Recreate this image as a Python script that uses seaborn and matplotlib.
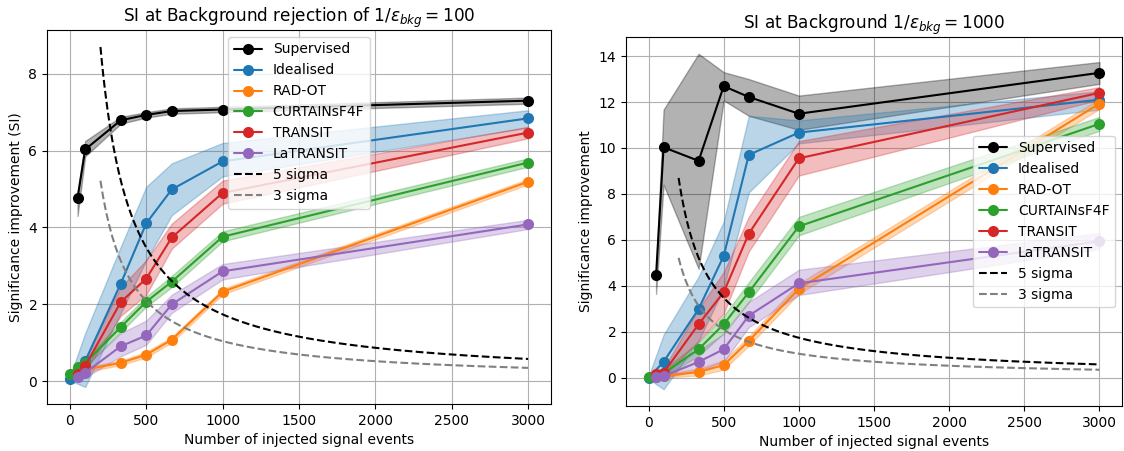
import numpy as np
import matplotlib
matplotlib.use("Agg")
import matplotlib.pyplot as plt
import seaborn as sns

sns.set_style("ticks", {
    "axes.edgecolor": "black",
    "axes.labelcolor": "black",
    "text.color": "black",
    "xtick.color": "black",
    "ytick.color": "black",
})
plt.rcParams["font.family"] = ["DejaVu Sans"]
plt.rcParams["axes.linewidth"] = 0.8

# ---- injected signal counts -------------------------------------------
X_FULL = [0, 50, 100, 333, 500, 667, 1000, 3000]
X_NO0 = [50, 100, 333, 500, 667, 1000, 3000]
X_IDEAL = [0, 100, 333, 500, 667, 1000, 3000]

# ---- background rejection 1/eps = 100 ---------------------------------
sup_100 = [4.77, 6.03, 6.79, 6.93, 7.03, 7.07, 7.30]
sup_100_lo = [4.30, 5.85, 6.70, 6.86, 6.96, 7.00, 7.22]
sup_100_hi = [4.85, 6.25, 6.88, 7.00, 7.10, 7.14, 7.38]

ideal_100 = [0.07, 0.52, 2.54, 4.11, 4.99, 5.72, 6.84]
ideal_100_lo = [0.02, -0.15, 1.77, 3.15, 4.32, 5.33, 6.60]
ideal_100_hi = [0.12, 1.25, 3.50, 5.06, 5.67, 6.20, 7.05]

radot_100 = [0.28, 0.30, 0.48, 0.69, 1.08, 2.33, 5.19]
radot_100_lo = [0.22, 0.24, 0.42, 0.62, 1.01, 2.26, 5.12]
radot_100_hi = [0.34, 0.36, 0.54, 0.76, 1.15, 2.40, 5.26]

curt_100 = [0.18, 0.38, 0.47, 1.41, 2.07, 2.59, 3.76, 5.69]
curt_100_lo = [0.12, 0.30, 0.38, 1.28, 1.94, 2.45, 3.64, 5.58]
curt_100_hi = [0.24, 0.46, 0.56, 1.54, 2.20, 2.74, 3.90, 5.80]

trans_100 = [0.18, 0.40, 2.06, 2.67, 3.74, 4.90, 6.47]
trans_100_lo = [0.10, 0.25, 1.70, 2.25, 3.45, 4.62, 6.32]
trans_100_hi = [0.26, 0.60, 2.45, 3.15, 4.10, 5.22, 6.62]

latr_100 = [0.11, 0.22, 0.91, 1.19, 2.00, 2.86, 4.08]
latr_100_lo = [0.05, 0.10, 0.65, 0.95, 1.78, 2.65, 3.96]
latr_100_hi = [0.17, 0.40, 1.25, 1.58, 2.25, 3.05, 4.20]

# ---- background rejection 1/eps = 1000 --------------------------------
sup_1000 = [4.45, 10.03, 9.44, 12.69, 12.22, 11.49, 13.27]
sup_1000_lo = [3.65, 8.40, 4.74, 12.07, 11.40, 10.79, 12.79]
sup_1000_hi = [4.70, 11.67, 14.10, 13.30, 13.00, 12.28, 13.74]

ideal_1000 = [0.00, 0.69, 2.99, 5.30, 9.70, 10.67, 12.10]
ideal_1000_lo = [-0.05, -0.50, 1.60, 3.90, 8.07, 10.20, 11.67]
ideal_1000_hi = [0.05, 1.87, 4.40, 6.80, 11.40, 11.20, 12.47]

radot_1000 = [0.05, 0.08, 0.25, 0.55, 1.60, 3.87, 11.93]
radot_1000_lo = [0.00, 0.00, 0.10, 0.35, 1.40, 3.65, 11.70]
radot_1000_hi = [0.10, 0.16, 0.40, 0.75, 1.80, 4.10, 12.15]

curt_1000 = [0.05, 0.10, 0.20, 1.24, 2.33, 3.72, 6.59, 11.05]
curt_1000_lo = [0.00, 0.02, 0.05, 0.95, 1.95, 3.30, 6.20, 10.75]
curt_1000_hi = [0.10, 0.18, 0.35, 1.55, 2.70, 4.15, 7.00, 11.35]

trans_1000 = [0.18, 0.22, 2.33, 3.72, 6.27, 9.55, 12.40]
trans_1000_lo = [0.05, 0.05, 1.60, 2.80, 5.50, 8.80, 12.10]
trans_1000_hi = [0.30, 0.40, 3.00, 4.60, 7.00, 10.30, 12.65]

latr_1000 = [0.05, 0.07, 0.69, 1.24, 2.70, 4.11, 5.94]
latr_1000_lo = [0.00, 0.00, 0.30, 0.70, 2.20, 3.60, 5.60]
latr_1000_hi = [0.10, 0.15, 1.20, 1.90, 3.30, 4.70, 6.30]

# ---- discovery thresholds: SI needed = n_sigma * sqrt(B) / S ----------
N_BKG = 121000
SIG_RANGE = (200, 3000)
SIGMAS = [(5, "5 sigma", "black"), (3, "3 sigma", "grey")]

METHODS = ["Supervised", "Idealised", "RAD-OT", "CURTAINsF4F", "TRANSIT", "LaTRANSIT"]
COLORS = ["black", "#1f77b4", "#ff7f0e", "#2ca02c", "#d62728", "#9467bd"]
XS = [X_NO0, X_IDEAL, X_NO0, X_FULL, X_NO0, X_NO0]

panels = [
    dict(
        title=r"SI at Background rejection of $1/\epsilon_{bkg} = 100$",
        ylabel="Significance improvement (SI)",
        legend="upper center",
        series=[(sup_100, sup_100_lo, sup_100_hi),
                (ideal_100, ideal_100_lo, ideal_100_hi),
                (radot_100, radot_100_lo, radot_100_hi),
                (curt_100, curt_100_lo, curt_100_hi),
                (trans_100, trans_100_lo, trans_100_hi),
                (latr_100, latr_100_lo, latr_100_hi)],
    ),
    dict(
        title=r"SI at Background $1/\epsilon_{bkg} = 1000$",
        ylabel="Significance improvement",
        legend="center right",
        series=[(sup_1000, sup_1000_lo, sup_1000_hi),
                (ideal_1000, ideal_1000_lo, ideal_1000_hi),
                (radot_1000, radot_1000_lo, radot_1000_hi),
                (curt_1000, curt_1000_lo, curt_1000_hi),
                (trans_1000, trans_1000_lo, trans_1000_hi),
                (latr_1000, latr_1000_lo, latr_1000_hi)],
    ),
]

W, H = 1124, 451
fig = plt.figure(figsize=(W / 100, H / 100), dpi=100)
boxes = [(47, 30, 551, 404), (626, 37, 1122, 406)]

for box, p in zip(boxes, panels):
    x0, y0, x1, y1 = box
    ax = fig.add_axes([x0 / W, 1 - y1 / H, (x1 - x0) / W, (y1 - y0) / H])
    for name, color, xs, (mid, lo, hi) in zip(METHODS, COLORS, XS, p["series"]):
        ax.fill_between(xs, lo, hi, color=color, alpha=0.3)
        sns.lineplot(x=xs, y=mid, ax=ax, color=color, label=name, marker="o",
                     markersize=8, markeredgecolor=color, markeredgewidth=0,
                     linewidth=1.5, sort=False)
    s = np.linspace(SIG_RANGE[0], SIG_RANGE[1], 300)
    for n_sigma, lab, c in SIGMAS:
        sns.lineplot(x=s, y=n_sigma * np.sqrt(N_BKG) / s, ax=ax, color=c,
                     linestyle="--", linewidth=1.5, label=lab)
    ax.set_title(p["title"], fontsize=12.2)
    ax.set_xlabel("Number of injected signal events", fontsize=10)
    ax.set_ylabel(p["ylabel"], fontsize=10)
    ax.grid(True, color="#b0b0b0", linewidth=0.8)
    ax.set_axisbelow(True)
    ax.tick_params(labelsize=10, length=3.5, width=0.8)
    ax.legend(loc=p["legend"], fontsize=10)

fig.savefig("out.png", dpi=100)
